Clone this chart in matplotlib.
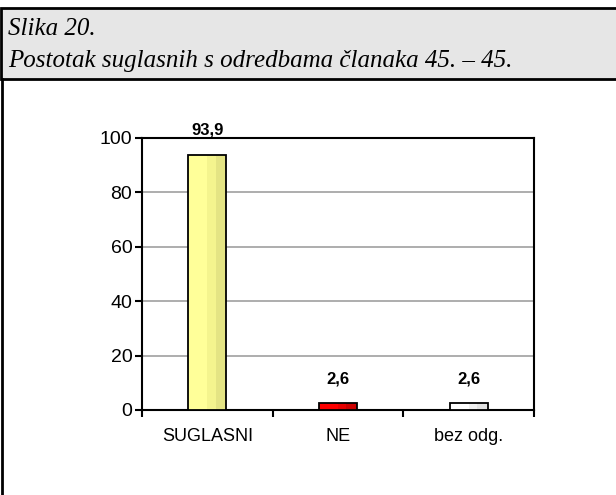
import matplotlib.pyplot as plt
from matplotlib.patches import Rectangle
from matplotlib.lines import Line2D

categories = ['SUGLASNI', 'NE', 'bez odg.']
values = [93.9, 2.6, 2.6]
value_labels = ['93,9', '2,6', '2,6']
yticks = [0, 20, 40, 60, 80, 100]

# boja: osnovna, srednja, tamna (lažni gradijent kao u Excelu)
shades = [('#FFFF99', '#F4F48E', '#E4E484'),
          ('#FF0000', '#E80000', '#CC0000'),
          ('#FFFFFF', '#F0F0F0', '#E2E2E2')]

W, H = 616, 495
fig = plt.figure(figsize=(W / 100, H / 100), dpi=100)
fig.patch.set_facecolor('white')

# okvir i zaglavlje
fig.patches.append(Rectangle((1 / W, 1 - 79 / H), 1, 71 / H, transform=fig.transFigure,
                             facecolor='#E6E6E6', edgecolor='black', linewidth=2))
fig.lines.append(Line2D([1.5 / W, 1.5 / W], [0, 1 - 79 / H], transform=fig.transFigure,
                        color='black', linewidth=2))
fig.text(8 / W, 1 - 29 / H, 'Slika 20.', family='Liberation Serif', style='italic',
         fontsize=18, va='center', ha='left')
fig.text(8 / W, 1 - 61 / H, 'Postotak suglasnih s odredbama članaka 45. – 45.',
         family='Liberation Serif', style='italic', fontsize=18, va='center', ha='left')

left, right, top, bottom = 142, 534, 138, 410
ax = fig.add_axes([left / W, 1 - bottom / H, (right - left) / W, (bottom - top) / H])

x = range(len(categories))
bw = 0.29
for i, (v, c) in enumerate(zip(values, shades)):
    ax.bar(i, v, width=bw, color=c[0], edgecolor='none', zorder=3)
    ax.bar(i + bw * 0.11, v, width=bw * 0.22, color=c[1], edgecolor='none', zorder=3)
    ax.bar(i + bw * 0.36, v, width=bw * 0.28, color=c[2], edgecolor='none', zorder=3)
    ax.bar(i, v, width=bw, color='none', edgecolor='black', linewidth=1.3, zorder=4)
    ax.annotate(value_labels[i], (i, v), xytext=(0, 12), textcoords='offset points',
                ha='center', va='bottom', fontsize=12, fontweight='bold',
                family=['Liberation Sans Narrow', 'Liberation Sans'], stretch='condensed')

ax.set_xlim(-0.5, 2.5)
ax.set_ylim(0, 100)
ax.set_yticks(yticks)
ax.set_yticklabels([str(t) for t in yticks], family='Liberation Sans', fontsize=14)
ax.set_xticks([-0.5, 0.5, 1.5, 2.5], minor=False)
ax.set_xticklabels([])
ax.set_xticks(list(x), minor=True)
ax.set_xticklabels(categories, minor=True, family='Liberation Sans', fontsize=13)
ax.tick_params(axis='x', which='minor', length=0, pad=13)
ax.tick_params(axis='x', which='major', length=5, width=1.5, direction='out')
ax.tick_params(axis='y', length=5, width=1.5, direction='out', pad=2)
ax.yaxis.grid(True, color='#A0A0A0', linewidth=1.2, zorder=0)
for s in ax.spines.values():
    s.set_linewidth(1.5)
ax.set_axisbelow(True)

fig.savefig('out.png', dpi=100)
